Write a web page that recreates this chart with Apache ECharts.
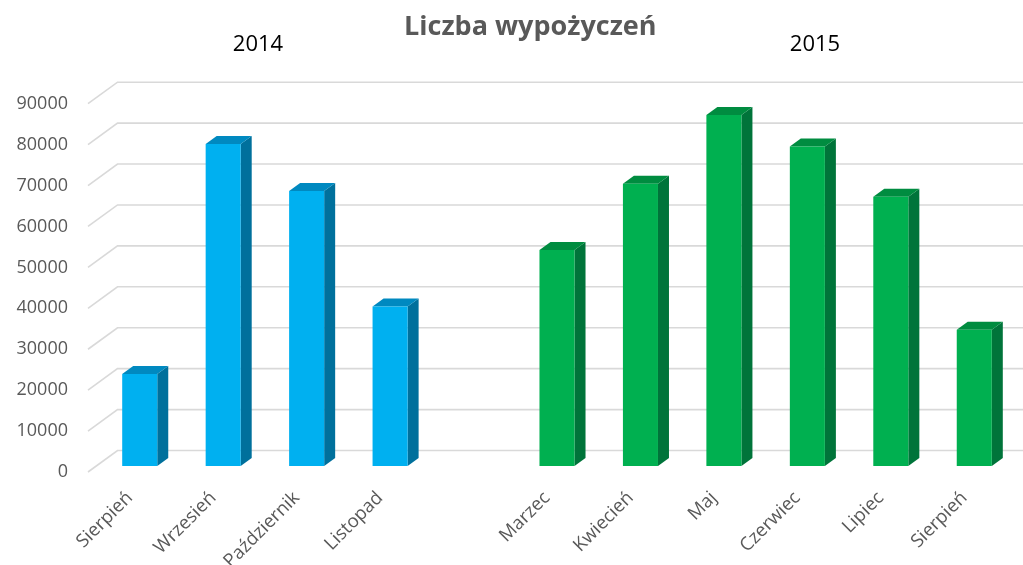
<!DOCTYPE html>
<html>
<head>
<meta charset="utf-8">
<script src="https://cdn.jsdelivr.net/npm/echarts@6/dist/echarts.min.js"></script>
<style>
  html, body { margin: 0; padding: 0; background: #ffffff; }
  #chart { width: 1023px; height: 565px; }
</style>
</head>
<body>
<div id="chart"></div>
<script>
// ---- data ----
const chartTitle = 'Liczba wypożyczeń';
const categories = ['Sierpień', 'Wrzesień', 'Październik', 'Listopad', '', 'Marzec', 'Kwiecień', 'Maj', 'Czerwiec', 'Lipiec', 'Sierpień'];
const values2014 = [22500, 78700, 67200, 39000, null, null, null, null, null, null, null];
const values2015 = [null, null, null, null, null, 52800, 69000, 85800, 78100, 65800, 33300];
const yTicks = [0, 10000, 20000, 30000, 40000, 50000, 60000, 70000, 80000, 90000];
const years = ['2014', '2015'];

// ---- styling ----
const FONT = '"Open Sans", "Noto Sans", sans-serif';
const DEPTH_DX = 11, DEPTH_DY = -8;     // bar depth (3D look)
const PLANE_DX = 10, PLANE_DY = -6;     // bar plane offset from front edge
const WALL_DX = 29.5, WALL_DY = -21.5;  // back wall offset

function toData(vals) {
  const out = [];
  vals.forEach((v, i) => { if (v !== null) out.push([i, v]); });
  return out;
}

function barRenderer(front, side, top) {
  return function (params, api) {
    const idx = api.value(0);
    const v = api.value(1);
    const base = api.coord([idx, 0]);
    const peak = api.coord([idx, v]);
    const band = api.size([1, 0])[0];
    const w = band * 0.42;
    const fx = base[0] + PLANE_DX - w / 2;
    const by = base[1] + PLANE_DY;
    const ty = peak[1] + PLANE_DY;
    return {
      type: 'group',
      children: [
        { type: 'polygon', shape: { points: [[fx + w, ty], [fx + w + DEPTH_DX, ty + DEPTH_DY], [fx + w + DEPTH_DX, by + DEPTH_DY], [fx + w, by]] }, style: { fill: side } },
        { type: 'polygon', shape: { points: [[fx, ty], [fx + w, ty], [fx + w + DEPTH_DX, ty + DEPTH_DY], [fx + DEPTH_DX, ty + DEPTH_DY]] }, style: { fill: top } },
        { type: 'rect', shape: { x: fx, y: ty, width: w, height: by - ty }, style: { fill: front } }
      ]
    };
  };
}

const chart = echarts.init(document.getElementById('chart'), null, { renderer: 'canvas' });

const option = {
  backgroundColor: '#ffffff',
  animation: false,
  title: {
    text: chartTitle,
    left: 404,
    top: 14,
    padding: 0,
    textStyle: { fontFamily: FONT, fontSize: 27, fontWeight: 'bold', color: '#595959' }
  },
  graphic: [
    { type: 'text', x: 258, y: 45, style: { text: years[0], fontFamily: FONT, fontSize: 22, fill: '#000000', align: 'center', verticalAlign: 'middle' } },
    { type: 'text', x: 815, y: 45, style: { text: years[1], fontFamily: FONT, fontSize: 22, fill: '#000000', align: 'center', verticalAlign: 'middle' } }
  ],
  grid: { left: 88, right: 17, top: 103.7, bottom: 93, containLabel: false, outerBoundsMode: 'none' },
  xAxis: {
    type: 'category',
    data: categories,
    axisLine: { show: false },
    axisTick: { show: false },
    splitLine: { show: false },
    axisLabel: { interval: 0, rotate: 45, margin: 23, color: '#595959', fontFamily: FONT, fontSize: 18.5 }
  },
  yAxis: {
    type: 'value',
    min: 0,
    max: 90000,
    interval: 10000,
    axisLine: { show: false },
    axisTick: { show: false },
    splitLine: { show: false },
    axisLabel: { margin: 20, color: '#595959', fontFamily: FONT, fontSize: 18, formatter: v => String(v) }
  },
  series: [
    {
      type: 'custom',
      name: 'grid',
      z: 1,
      silent: true,
      data: yTicks.map(v => [0, v]),
      renderItem: function (params, api) {
        const y = api.coord([0, api.value(1)])[1];
        const x0 = params.coordSys.x;
        return {
          type: 'polyline',
          shape: { points: [[x0, y], [x0 + WALL_DX, y + WALL_DY], [api.getWidth(), y + WALL_DY]] },
          style: { stroke: '#d9d9d9', lineWidth: 1.6, fill: null }
        };
      }
    },
    {
      type: 'custom',
      name: '2014',
      z: 2,
      data: toData(values2014),
      renderItem: barRenderer('#00b0f0', '#00709c', '#0089c0')
    },
    {
      type: 'custom',
      name: '2015',
      z: 2,
      data: toData(values2015),
      renderItem: barRenderer('#00b050', '#00743a', '#008c40')
    }
  ]
};

chart.setOption(option);
</script>
</body>
</html>
